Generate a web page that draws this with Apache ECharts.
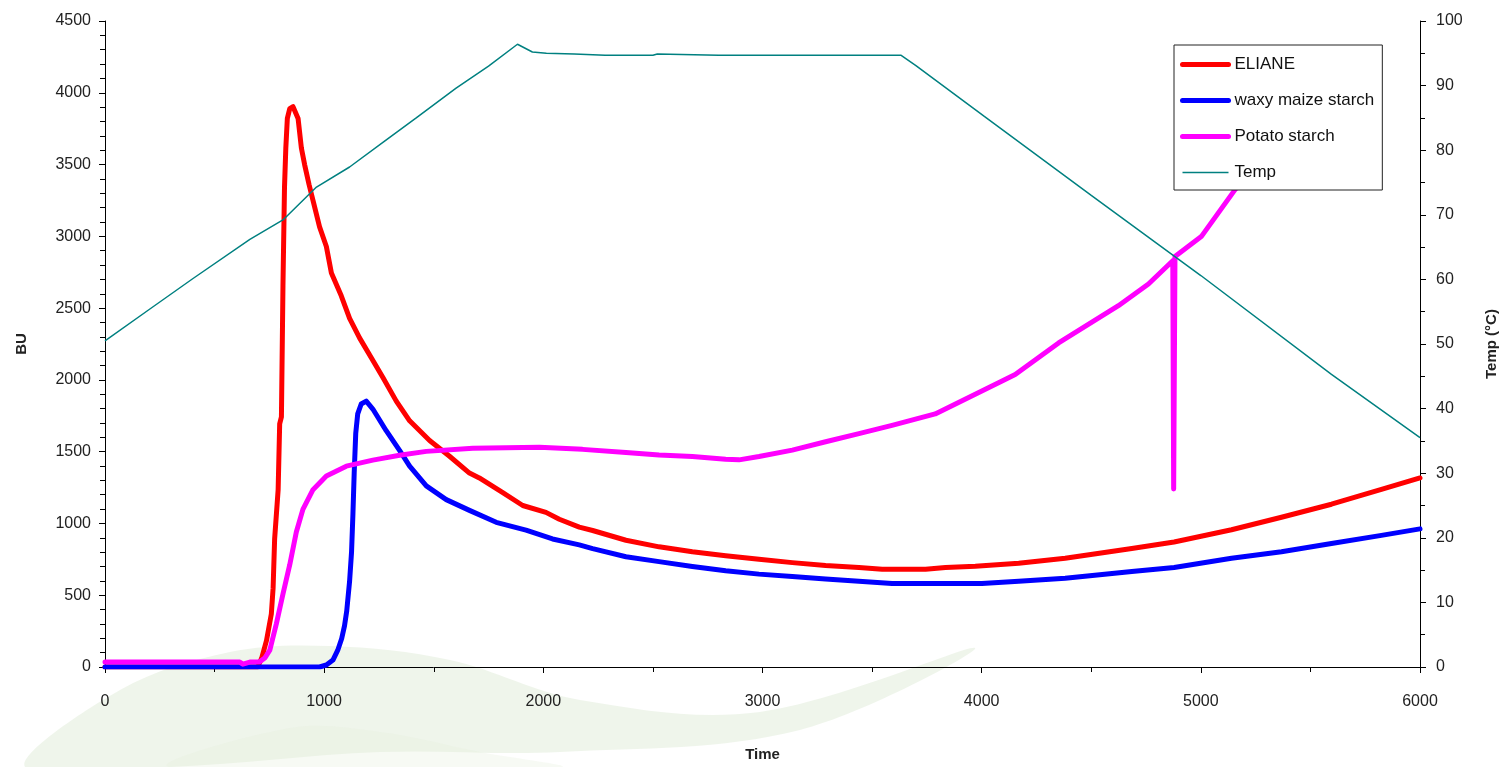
<!DOCTYPE html>
<html>
<head>
<meta charset="utf-8">
<script src="https://cdn.jsdelivr.net/npm/echarts@6/dist/echarts.min.js"></script>
<style>
html,body{margin:0;padding:0;background:#fff;}
#chart{width:1507px;height:767px;}
</style>
</head>
<body>
<div id="chart"></div>
<script>
// ---- data ----
var seriesNames = ['ELIANE', 'waxy maize starch', 'Potato starch', 'Temp'];

var elianeTime = [0, 697, 715, 737, 759, 767, 774, 790, 797, 805, 812, 819, 825, 832, 843, 858, 881, 896, 911, 931, 949, 979, 1010, 1033, 1078, 1116, 1162, 1215, 1268, 1329, 1390, 1481, 1572, 1663, 1708, 1815, 1906, 2012, 2073, 2164, 2225, 2377, 2528, 2680, 2832, 2984, 3136, 3288, 3440, 3546, 3744, 3835, 3971, 4169, 4381, 4685, 4878, 5140, 5368, 5596, 5824, 6000];
var elianeBU   = [0, 0, 62, 185, 370, 549, 892, 1235, 1694, 1742, 2655, 3341, 3615, 3821, 3889, 3903, 3821, 3615, 3498, 3361, 3251, 3066, 2929, 2744, 2586, 2428, 2291, 2154, 2017, 1852, 1715, 1578, 1468, 1351, 1317, 1214, 1125, 1077, 1029, 974, 951, 883, 837, 803, 775, 750, 727, 707, 693, 681, 681, 693, 702, 722, 757, 825, 871, 956, 1043, 1134, 1237, 1317];

var waxyTime = [0, 979, 1010, 1040, 1062, 1080, 1093, 1103, 1116, 1125, 1131, 1137, 1144, 1153, 1169, 1192, 1222, 1283, 1344, 1390, 1466, 1557, 1663, 1785, 1921, 2042, 2164, 2225, 2377, 2528, 2680, 2832, 2984, 3136, 3288, 3440, 3591, 4001, 4169, 4381, 4685, 4878, 5140, 5368, 5596, 5824, 6000];
var waxyBU   = [0, 0, 14, 48, 117, 199, 288, 391, 597, 803, 1056, 1351, 1626, 1763, 1832, 1852, 1797, 1646, 1509, 1399, 1262, 1166, 1091, 1008, 953, 892, 851, 825, 768, 734, 700, 670, 647, 631, 613, 597, 581, 581, 597, 619, 665, 693, 757, 803, 860, 917, 962];

var potatoTime = [0, 615, 629, 661, 706, 729, 752, 782, 812, 843, 873, 903, 949, 1010, 1101, 1222, 1344, 1466, 1678, 1982, 2179, 2377, 2528, 2680, 2832, 2893, 2984, 3136, 3288, 3440, 3591, 3788, 4077, 4153, 4351, 4624, 4761, 4872, 4876, 4882, 5002, 5157, 5308, 5444];
var potatoBU   = [34, 34, 20, 34, 36, 62, 117, 302, 508, 713, 940, 1098, 1235, 1331, 1399, 1441, 1475, 1502, 1523, 1530, 1516, 1495, 1477, 1466, 1447, 1443, 1466, 1511, 1569, 1626, 1683, 1763, 1980, 2037, 2257, 2517, 2668, 2830, 1240, 2860, 2998, 3327, 3615, 3924];

var tempTime = [0, 200, 400, 661, 812, 965, 1116, 1268, 1420, 1602, 1750, 1882, 1950, 2014, 2141, 2282, 2500, 2520, 2800, 3200, 3631, 3700, 4009, 4500, 5000, 5596, 6000];
var tempC    = [50.5, 55.3, 60.1, 66.2, 69.2, 74.3, 77.4, 81.2, 85.0, 89.6, 93.0, 96.4, 95.2, 95.0, 94.9, 94.7, 94.7, 94.9, 94.7, 94.7, 94.7, 93.1, 85.3, 73.0, 60.6, 45.3, 35.5];

var xTicks = {min: 0, max: 6000, interval: 1000};
var buTicks = {min: 0, max: 4500, interval: 500};
var tempTicks = {min: 0, max: 100, interval: 10};

function pairs(xs, ys) { return xs.map(function (x, i) { return [x, ys[i]]; }); }
function plain(v) { return String(v); }

var chart = echarts.init(document.getElementById('chart'), null, {renderer: 'canvas'});
var FONT = '"Liberation Sans", Arial, sans-serif';
var axisLine = {show: true, lineStyle: {color: '#000', width: 1}};
var labelStyle = {color: '#222', fontSize: 16, fontFamily: FONT, formatter: plain};
var nameStyle = {color: '#222', fontSize: 15, fontWeight: 'bold', fontFamily: FONT};

chart.setOption({
  backgroundColor: '#fff',
  animation: false,
  graphic: [
    {type: 'polygon', z: -10, silent: true,
     shape: {smooth: 0.35, points: [[25, 767], [120, 690], [230, 652], [330, 646], [450, 660], [580, 700], [760, 712], [975, 648], [800, 730], [560, 752], [380, 752], [170, 767]]},
     style: {fill: 'rgba(205,225,192,0.32)'}},
    {type: 'polygon', z: -10, silent: true,
     shape: {smooth: 0.35, points: [[170, 767], [290, 728], [380, 732], [480, 752], [560, 767]]},
     style: {fill: 'rgba(228,238,220,0.3)'}}
  ],
  grid: {left: 105, right: 85, top: 21, bottom: 90, containLabel: false},
  legend: {
    orient: 'vertical',
    left: 1174, top: 45,
    padding: [11, 8, 9, 6],
    itemGap: 19,
    itemWidth: 46, itemHeight: 16,
    backgroundColor: '#fff',
    borderColor: '#222', borderWidth: 1, borderRadius: 0,
    itemStyle: {color: 'rgba(0,0,0,0)', borderWidth: 0},
    textStyle: {color: '#111', fontSize: 17, fontFamily: FONT, padding: [0, 0, 0, 1]},
    data: [
      {name: seriesNames[0], lineStyle: {width: 5, color: '#ff0000'}},
      {name: seriesNames[1], lineStyle: {width: 5, color: '#0000ff'}},
      {name: seriesNames[2], lineStyle: {width: 5, color: '#ff00ff'}},
      {name: seriesNames[3], lineStyle: {width: 1.5, color: '#008080'}}
    ]
  },
  xAxis: {
    type: 'value', min: xTicks.min, max: xTicks.max, interval: xTicks.interval,
    name: 'Time', nameLocation: 'middle', nameGap: 80, nameTextStyle: nameStyle,
    axisLine: axisLine,
    axisTick: {show: true, inside: false, length: 6, lineStyle: {color: '#000'}},
    minorTick: {show: true, splitNumber: 2, length: 5, lineStyle: {color: '#000'}},
    axisLabel: Object.assign({margin: 27}, labelStyle),
    splitLine: {show: false}
  },
  yAxis: [
    {
      type: 'value', position: 'left', min: buTicks.min, max: buTicks.max, interval: buTicks.interval,
      name: 'BU', nameLocation: 'middle', nameGap: 76, nameRotate: 90, nameTextStyle: nameStyle,
      axisLine: axisLine,
      axisTick: {show: true, inside: false, length: 6, lineStyle: {color: '#000'}},
      minorTick: {show: true, splitNumber: 5, length: 5, lineStyle: {color: '#000'}},
      axisLabel: Object.assign({margin: 14}, labelStyle),
      splitLine: {show: false}
    },
    {
      type: 'value', position: 'right', min: tempTicks.min, max: tempTicks.max, interval: tempTicks.interval,
      name: 'Temp (°C)', nameLocation: 'middle', nameGap: 64, nameRotate: 90, nameTextStyle: nameStyle,
      axisLine: axisLine,
      axisTick: {show: true, inside: false, length: 6, lineStyle: {color: '#000'}},
      minorTick: {show: true, splitNumber: 2, length: 5, lineStyle: {color: '#000'}},
      axisLabel: Object.assign({margin: 16}, labelStyle),
      splitLine: {show: false}
    }
  ],
  series: [
    {name: seriesNames[0], type: 'line', yAxisIndex: 0, symbol: 'none', showSymbol: false,
     data: pairs(elianeTime, elianeBU), color: '#ff0000',
     lineStyle: {color: '#ff0000', width: 5, join: 'round', cap: 'round'}},
    {name: seriesNames[1], type: 'line', yAxisIndex: 0, symbol: 'none', showSymbol: false,
     data: pairs(waxyTime, waxyBU), color: '#0000ff',
     lineStyle: {color: '#0000ff', width: 5, join: 'round', cap: 'round'}},
    {name: seriesNames[2], type: 'line', yAxisIndex: 0, symbol: 'none', showSymbol: false,
     data: pairs(potatoTime, potatoBU), color: '#ff00ff',
     lineStyle: {color: '#ff00ff', width: 5, join: 'round', cap: 'round'}},
    {name: seriesNames[3], type: 'line', yAxisIndex: 1, symbol: 'none', showSymbol: false,
     data: pairs(tempTime, tempC), color: '#008080',
     lineStyle: {color: '#008080', width: 1.5}}
  ]
});
</script>
</body>
</html>
